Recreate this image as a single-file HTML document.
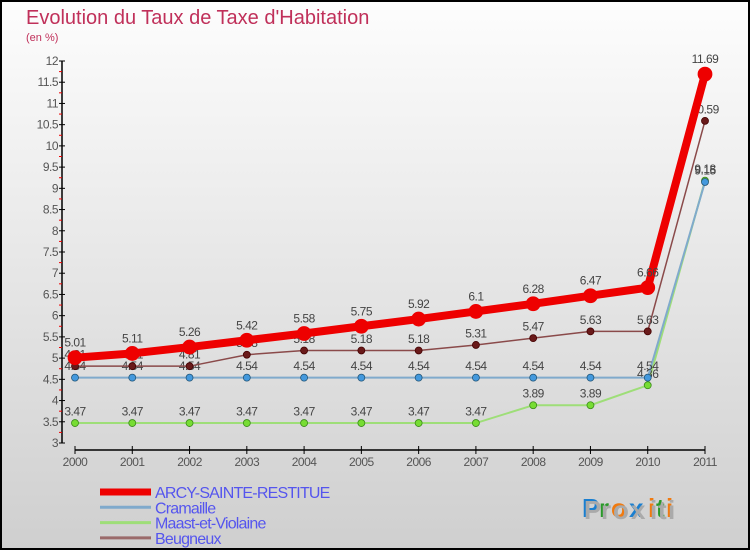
<!DOCTYPE html>
<html><head><meta charset="utf-8"><style>
html,body{margin:0;padding:0}
body{width:750px;height:550px;overflow:hidden;font-family:"Liberation Sans",sans-serif}
#wrap{position:absolute;left:0;top:0;width:746px;height:546px;border:2px solid #000;background:linear-gradient(#fdfdfd,#cfcfcf)}
</style></head><body>
<div id="wrap">
<svg id="chart" width="746" height="546" viewBox="2 2 746 546"></svg>
</div>
<script>
const years=[2000,2001,2002,2003,2004,2005,2006,2007,2008,2009,2010,2011];
const arcy=[5.01,5.11,5.26,5.42,5.58,5.75,5.92,6.1,6.28,6.47,6.66,11.69];
const cramaille=[4.54,4.54,4.54,4.54,4.54,4.54,4.54,4.54,4.54,4.54,4.54,9.15];
const maast=[3.47,3.47,3.47,3.47,3.47,3.47,3.47,3.47,3.89,3.89,4.36,9.18];
const beugneux=[4.81,4.81,4.81,5.08,5.18,5.18,5.18,5.31,5.47,5.63,5.63,10.59];
const yTicks=[3,3.5,4,4.5,5,5.5,6,6.5,7,7.5,8,8.5,9,9.5,10,10.5,11,11.5,12];
const NS="http://www.w3.org/2000/svg";
const svg=document.getElementById('chart');
const x=i=>75+i*(705-75)/11;
const y=v=>443-(v-3)*(443-61)/9;
function el(t,a,p){const e=document.createElementNS(NS,t);for(const k in a)e.setAttribute(k,a[k]);(p||svg).appendChild(e);return e;}
function txt(s,a){const e=el('text',a);e.textContent=s;return e;}
const title=txt('Evolution du Taux de Taxe d\'Habitation',{x:26,y:24,'font-size':20,fill:'#c0305a'});


const sub=txt('(en %)',{x:26,y:41,'font-size':11,fill:'#c0305a'});


const ax=el('g',{});


el('line',{x1:62,y1:61,x2:62,y2:443,stroke:'#000','stroke-width':1.5},ax);
yTicks.forEach(v=>{
  el('line',{x1:59,y1:y(v),x2:65,y2:y(v),stroke:'#000'},ax);
  if(v<12) el('line',{x1:59,y1:y(v+0.25),x2:62,y2:y(v+0.25),stroke:'#e00'},ax);
  const t=txt(String(v),{x:58,y:y(v)+4,'font-size':12,'text-anchor':'end',fill:'#555','letter-spacing':'-0.5'});
  
  
});
const xa=el('g',{});


el('line',{x1:75,y1:450,x2:705,y2:450,stroke:'#000','stroke-width':1.5},xa);
years.forEach((yr,i)=>{
  el('line',{x1:x(i),y1:446,x2:x(i),y2:454,stroke:'#000'},xa);
  const t=txt(String(yr),{x:x(i),y:466,'font-size':12,'text-anchor':'middle',fill:'#555','letter-spacing':'-0.5'});
  
  
});
function series(name,data,color,w,r,fill,stroke){
  const g=el('g',{});
  
  
  el('polyline',{points:data.map((v,i)=>x(i)+','+y(v)).join(' '),fill:'none',stroke:color,'stroke-width':w},g);
  data.forEach((v,i)=>{
    const c=el('circle',{cx:x(i),cy:y(v),r:r,fill:fill,stroke:stroke,'stroke-width':0.8},g);
    
    
    const t=txt(String(v),{x:x(i),y:y(v)-r-4,'font-size':12,'text-anchor':'middle',fill:'#444','letter-spacing':'-0.5'});
    
    
    g.appendChild(t);
  });
}
series('maast',maast,'#9ede78',2,3.5,'#77dd33','#3a8a1a');
series('cramaille',cramaille,'#80aacc',2,3.5,'#4499dd','#225577');
series('beugneux',beugneux,'#8a4a4a',1.5,3.5,'#6a1a1a','#400');
series('arcy',arcy,'#ee0000',8,7,'#ee0000','#ee0000');
const legend=[['ARCY-SAINTE-RESTITUE','#ee0000',7],['Cramaille','#80aacc',3],['Maast-et-Violaine','#9ede78',3],['Beugneux','#9a6a6a',3]];
legend.forEach((l,i)=>{
  const g=el('g',{});
  
  
  const yy=492+i*15.3;
  el('line',{x1:100,y1:yy,x2:151,y2:yy,stroke:l[1],'stroke-width':l[2]},g);
  const t=txt(l[0],{x:155,y:yy+6,'font-size':16,fill:'#5555ee','letter-spacing':'-0.8'});
  g.appendChild(t);
});
const logo=el('g',{});


[['P','#1a7fd0'],['r','#2a9a2a'],['o','#f07a10'],['x','#1a7fd0'],['i','#f07a10'],['t','#2a9a2a'],['i','#f07a10']].forEach((c,i)=>{
  const dx=582+[0,17,29,47,66,74,84][i];
  txt(c[0],{x:dx+2,y:519,'font-size':26,'font-weight':'bold',fill:'#aaa'});
  const t=txt(c[0],{x:dx,y:517,'font-size':26,'font-weight':'bold',fill:c[1]});
  logo.appendChild(t);
});
</script>
</body></html>
